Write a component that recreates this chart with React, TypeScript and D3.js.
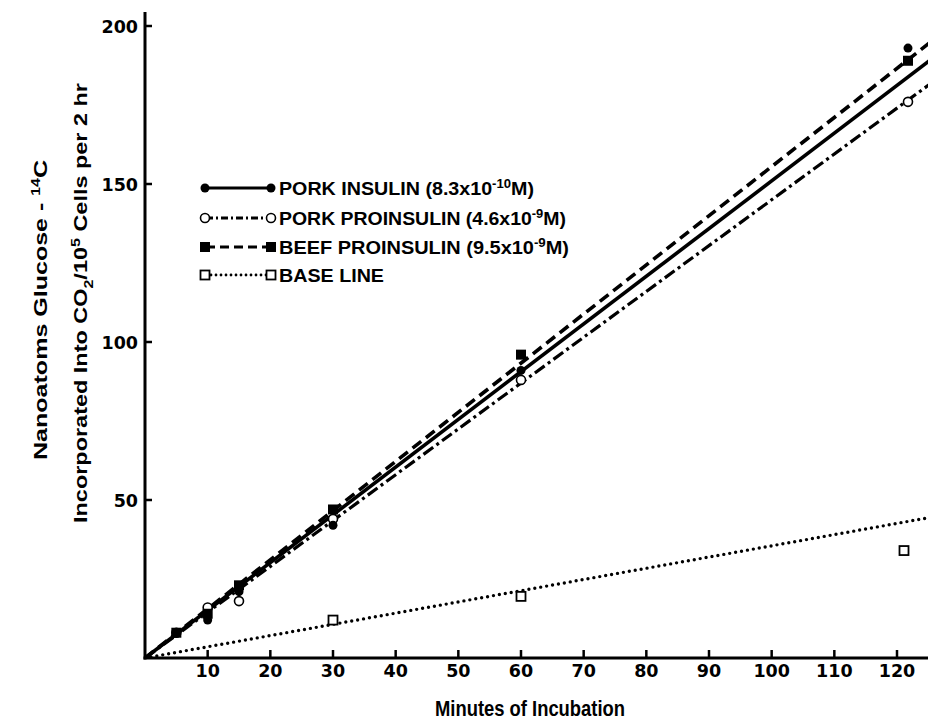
import React from "react";
import * as d3 from "d3";

const minutes = [5, 10, 15, 30, 60, 120];
const porkInsulin = [8, 12, 21, 42, 91, 193];
const porkProinsulin = [8, 16, 18, 44, 88, 176];
const beefProinsulin = [8, 14, 23, 47, 96, 189];
const baseMinutes = [30, 60, 120];
const baseLine = [12, 19.5, 34];

const slopes = { pork: 1.51, porkPro: 1.45, beef: 1.555, base: 0.355 };

const xTicks = [10, 20, 30, 40, 50, 60, 70, 80, 90, 100, 110, 120];
const yTicks = [50, 100, 150, 200];

const W = 928, H = 720;
const x0 = 145, y0 = 658;
const x = d3.scaleLinear().domain([0, 120]).range([x0, 897]);
const y = d3.scaleLinear().domain([0, 200]).range([y0, 26]);
const font = "'Liberation Sans', Arial, sans-serif";
const tickFont = "'DejaVu Sans', sans-serif";

export default function App() {
  const xMax = x.invert(W + 10);
  const fit = (s: number) =>
    d3.line<number>().x((m) => x(m)).y((m) => y(s * m))([0, xMax]) as string;

  const legend = [
    { label: "PORK INSULIN (8.3x10", sup: "-10", tail: "M)", dash: "none", marker: "dot", len: 255 },
    { label: "PORK PROINSULIN (4.6x10", sup: "-9", tail: "M)", dash: "7 3 2 3", marker: "open", len: 287 },
    { label: "BEEF PROINSULIN (9.5x10", sup: "-9", tail: "M)", dash: "9 5", marker: "square", len: 290 },
    { label: "BASE LINE", sup: "", tail: "", dash: "0 5", marker: "opensq", len: 105 },
  ];

  const marker = (kind: string, cx: number, cy: number, key: string) => {
    if (kind === "dot") return <circle key={key} cx={cx} cy={cy} r={4.5} fill="#000" />;
    if (kind === "open") return <circle key={key} cx={cx} cy={cy} r={4.5} fill="#fff" stroke="#000" strokeWidth={1.6} />;
    if (kind === "square") return <rect key={key} x={cx - 5} y={cy - 5} width={10} height={10} fill="#000" />;
    return <rect key={key} x={cx - 4.5} y={cy - 4.5} width={9} height={9} fill="#fff" stroke="#000" strokeWidth={1.8} />;
  };
  const off = (m: number, d: number) => x(m) + (m === 120 ? d : 0);

  return (
    <svg width={W} height={H} style={{ position: "absolute", left: 0, top: 0, background: "#fff" }}>
      <defs>
        <clipPath id="plot">
          <rect x={x0} y={0} width={W - x0} height={y0} />
        </clipPath>
      </defs>
      <rect width={W} height={H} fill="#fff" />
      <g clipPath="url(#plot)" fill="none" stroke="#000">
        <path d={fit(slopes.pork)} strokeWidth={3.6} />
        <path d={fit(slopes.porkPro)} strokeWidth={3.2} strokeDasharray="12 4 3 4" />
        <path d={fit(slopes.beef)} strokeWidth={3.6} strokeDasharray="11 6" />
        <path d={fit(slopes.base)} strokeWidth={3.4} strokeDasharray="0 6" strokeLinecap="round" />
      </g>
      <g>
        {minutes.map((m, i) => marker("open", off(m, 11), y(porkProinsulin[i]), "o" + i))}
        {minutes.map((m, i) => marker("square", off(m, 11), y(beefProinsulin[i]), "b" + i))}
        {minutes.map((m, i) => marker("dot", off(m, 11), y(porkInsulin[i]), "p" + i))}
        {baseMinutes.map((m, i) => marker("opensq", off(m, 7), y(baseLine[i]), "s" + i))}
      </g>
      <g stroke="#000" strokeWidth={3}>
        <line x1={x0} x2={x0} y1={12} y2={y0 + 1.5} />
        <line x1={x0 - 1.5} x2={W} y1={y0} y2={y0} />
        {xTicks.map((t) => (
          <line key={t} x1={x(t)} x2={x(t)} y1={y0} y2={y0 - 8} strokeWidth={2.5} />
        ))}
        {yTicks.map((t) => (
          <line key={t} x1={x0} x2={x0 + 7} y1={y(t)} y2={y(t)} strokeWidth={2.5} />
        ))}
      </g>
      <g fontFamily={tickFont} fontWeight="bold" fontSize={17.5} fill="#000">
        {xTicks.map((t) => (
          <text key={t} x={x(t)} y={677} textAnchor="middle">{t}</text>
        ))}
        {yTicks.map((t) => (
          <text key={t} x={x0 - 7} y={y(t) + 6.5} textAnchor="end">{t}</text>
        ))}
      </g>
      <text x={435} y={716} fontFamily={font} fontWeight="bold" fontSize={22}
        textLength={190} lengthAdjust="spacingAndGlyphs">
        Minutes of Incubation
      </text>
      <g fontFamily={font} fontWeight="bold" fontSize={19}>
        <text transform="translate(47,310) rotate(-90)" textAnchor="middle"
          textLength={300} lengthAdjust="spacingAndGlyphs">
          Nanoatoms Glucose - <tspan dy={-7} fontSize={12}>14</tspan><tspan dy={7}>C</tspan>
        </text>
        <text transform="translate(87,303) rotate(-90)" textAnchor="middle"
          textLength={440} lengthAdjust="spacingAndGlyphs">
          Incorporated Into CO<tspan dy={6} fontSize={13}>2</tspan><tspan dy={-6}>/10</tspan>
          <tspan dy={-7} fontSize={13}>5</tspan><tspan dy={7}> Cells per 2 hr</tspan>
        </text>
      </g>
      <g fontFamily={font} fontWeight="bold" fontSize={18}>
        {legend.map((l, i) => {
          const ly = [188, 218, 247, 275][i];
          return (
            <g key={i}>
              <line
                x1={206} x2={269} y1={ly} y2={ly} stroke="#000"
                strokeWidth={l.marker === "opensq" ? 2.8 : 3}
                strokeDasharray={l.dash === "none" ? undefined : l.dash}
                strokeLinecap={l.marker === "opensq" ? "round" : "butt"}
              />
              {marker(l.marker, 205, ly, "lm" + i)}
              {marker(l.marker, 271, ly, "lr" + i)}
              <text x={279} y={ly + 6.5} textLength={l.len} lengthAdjust="spacingAndGlyphs">
                {l.label}
                {l.sup && <tspan dy={-7} fontSize={12}>{l.sup}</tspan>}
                {l.tail && <tspan dy={7}>{l.tail}</tspan>}
              </text>
            </g>
          );
        })}
      </g>
    </svg>
  );
}
